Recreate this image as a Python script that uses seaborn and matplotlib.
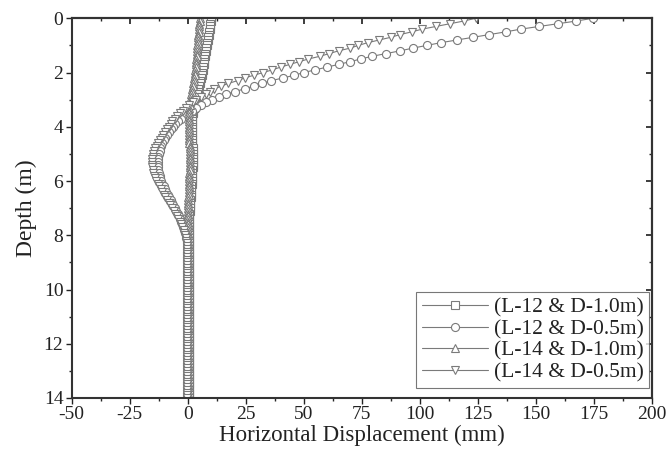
import numpy as np
import pandas as pd
import matplotlib
matplotlib.use("Agg")
import matplotlib.pyplot as plt
import seaborn as sns
from matplotlib.ticker import MultipleLocator

# depth sampling grid (m), 0.1 m step
depth = np.round(np.arange(0, 14.01, 0.1), 1)

# L-12 & D-1.0m (squares)
disp_l12_d10 = [
    10.2, 10.0, 9.8, 9.6, 9.4, 9.2, 9.0, 8.8, 8.6, 8.4,
    8.2, 8.0, 7.8, 7.6, 7.4, 7.2, 7.0, 6.8, 6.6, 6.4,
    6.2, 6.0, 5.8, 5.5, 5.2, 4.9, 4.6, 4.3, 4.0, 3.7,
    3.4, 3.1, 2.8, 2.6, 2.4, 2.2, 2.0, 1.9, 1.8, 1.8,
    1.8, 1.8, 1.8, 1.8, 1.9, 1.9, 2.0, 2.0, 2.1, 2.1,
    2.1, 2.1, 2.1, 2.1, 2.1, 2.1, 2.0, 2.0, 1.9, 1.9,
    1.8, 1.7, 1.6, 1.5, 1.4, 1.3, 1.2, 1.1, 1.0, 0.9,
    0.8, 0.8, 0.7, 0.7, 0.7, 0.7, 0.6, 0.6, 0.6, 0.6,
    0.6, 0.6, 0.6, 0.6, 0.6, 0.6, 0.6, 0.6, 0.6, 0.6,
    0.6, 0.6, 0.6, 0.6, 0.6, 0.6, 0.6, 0.6, 0.6, 0.6,
    0.6, 0.6, 0.6, 0.6, 0.6, 0.6, 0.6, 0.6, 0.6, 0.6,
    0.6, 0.6, 0.6, 0.6, 0.6, 0.6, 0.6, 0.6, 0.6, 0.6,
    0.6, 0.6, 0.6, 0.6, 0.6, 0.6, 0.6, 0.6, 0.6, 0.6,
    0.6, 0.6, 0.6, 0.6, 0.6, 0.6, 0.6, 0.6, 0.6, 0.6,
    0.6,
]

# L-12 & D-0.5m (circles)
disp_l12_d05 = [
    174.5, 167.5, 159.5, 151.5, 143.5, 137, 130, 123, 116, 109,
    103, 97, 91.5, 85.5, 79.5, 74.5, 70, 65, 60, 55,
    50, 46, 41, 36, 32, 28.5, 24.5, 20.5, 16.5, 13.5,
    10.5, 8, 5.7, 3.7, 1.8, 0, -1.5, -3, -4.3, -5.5,
    -6.5, -7.4, -8.2, -9, -9.7, -10.3, -10.9, -11.4, -11.8, -12.1,
    -12.4, -12.6, -12.8, -12.9, -12.9, -12.8, -12.6, -12.4, -12.1, -11.8,
    -11.4, -10.9, -10.4, -9.8, -9.2, -8.6, -8, -7.4, -6.8, -6.2,
    -5.6, -5, -4.4, -3.8, -3.3, -2.8, -2.3, -1.9, -1.5, -1.2,
    -0.9, -0.7, -0.5, -0.4, -0.3, -0.3, -0.2, -0.2, -0.2, -0.2,
    -0.2, -0.2, -0.2, -0.2, -0.2, -0.2, -0.2, -0.2, -0.2, -0.2,
    -0.2, -0.2, -0.2, -0.2, -0.2, -0.2, -0.2, -0.2, -0.2, -0.2,
    -0.2, -0.2, -0.2, -0.2, -0.2, -0.2, -0.2, -0.2, -0.2, -0.2,
    -0.2, -0.2, -0.2, -0.2, -0.2, -0.2, -0.2, -0.2, -0.2, -0.2,
    -0.2, -0.2, -0.2, -0.2, -0.2, -0.2, -0.2, -0.2, -0.2, -0.2,
    -0.2,
]

# L-14 & D-1.0m (up triangles)
disp_l14_d10 = [
    5.2, 5.1, 5.0, 4.9, 4.8, 4.7, 4.6, 4.5, 4.4, 4.3,
    4.2, 4.1, 4.0, 3.9, 3.8, 3.7, 3.6, 3.5, 3.4, 3.3,
    3.2, 3.0, 2.8, 2.6, 2.4, 2.2, 2.0, 1.8, 1.6, 1.4,
    1.2, 1.0, 0.8, 0.7, 0.6, 0.5, 0.5, 0.5, 0.5, 0.5,
    0.5, 0.5, 0.5, 0.6, 0.6, 0.7, 0.7, 0.8, 0.8, 0.8,
    0.8, 0.8, 0.8, 0.8, 0.8, 0.8, 0.8, 0.7, 0.7, 0.7,
    0.6, 0.6, 0.5, 0.5, 0.4, 0.4, 0.3, 0.3, 0.3, 0.2,
    0.2, 0.2, 0.2, 0.2, 0.2, 0.2, 0.2, 0.2, 0.2, 0.2,
    0.2, 0.2, 0.2, 0.2, 0.2, 0.2, 0.2, 0.2, 0.2, 0.2,
    0.2, 0.2, 0.2, 0.2, 0.2, 0.2, 0.2, 0.2, 0.2, 0.2,
    0.2, 0.2, 0.2, 0.2, 0.2, 0.2, 0.2, 0.2, 0.2, 0.2,
    0.2, 0.2, 0.2, 0.2, 0.2, 0.2, 0.2, 0.2, 0.2, 0.2,
    0.2, 0.2, 0.2, 0.2, 0.2, 0.2, 0.2, 0.2, 0.2, 0.2,
    0.2, 0.2, 0.2, 0.2, 0.2, 0.2, 0.2, 0.2, 0.2, 0.2,
    0.2,
]

# L-14 & D-0.5m (down triangles)
disp_l14_d05 = [
    124, 119, 113, 107, 101, 96.5, 91.5, 87.5, 82.5, 77.5,
    73.5, 70, 65, 61, 57, 52, 48, 44, 40, 36.5,
    32.5, 28.5, 24.5, 21.5, 17.5, 14.5, 11.5, 9.5, 7.7, 5.7,
    3.7, 2.1, 0.5, -0.9, -2.2, -3.4, -4.6, -5.6, -6.6, -7.4,
    -8.1, -8.9, -9.7, -10.5, -11.3, -12, -12.7, -13.3, -13.9, -14.4,
    -14.8, -15.1, -15.3, -15.4, -15.4, -15.3, -15.1, -14.8, -14.4, -14,
    -13.5, -12.9, -12.3, -11.7, -11, -10.3, -9.6, -8.9, -8.2, -7.5,
    -6.8, -6.1, -5.4, -4.7, -4.1, -3.5, -2.9, -2.3, -1.8, -1.4,
    -1.1, -0.8, -0.6, -0.5, -0.4, -0.4, -0.4, -0.4, -0.4, -0.4,
    -0.4, -0.4, -0.4, -0.4, -0.4, -0.4, -0.4, -0.4, -0.4, -0.4,
    -0.4, -0.4, -0.4, -0.4, -0.4, -0.4, -0.4, -0.4, -0.4, -0.4,
    -0.4, -0.4, -0.4, -0.4, -0.4, -0.4, -0.4, -0.4, -0.4, -0.4,
    -0.4, -0.4, -0.4, -0.4, -0.4, -0.4, -0.4, -0.4, -0.4, -0.4,
    -0.4, -0.4, -0.4, -0.4, -0.4, -0.4, -0.4, -0.4, -0.4, -0.4,
    -0.4,
]

series_names = ["(L-12 & D-1.0m)", "(L-12 & D-0.5m)", "(L-14 & D-1.0m)", "(L-14 & D-0.5m)"]
series_values = [disp_l12_d10, disp_l12_d05, disp_l14_d10, disp_l14_d05]
series_markers = ["s", "o", "^", "v"]

x_ticks = [-50, -25, 0, 25, 50, 75, 100, 125, 150, 175, 200]
y_ticks = [0, 2, 4, 6, 8, 10, 12, 14]

frames = []
for name, vals in zip(series_names, series_values):
    frames.append(pd.DataFrame({"disp": vals, "depth": depth, "series": name}))
df = pd.concat(frames, ignore_index=True)

sns.set_theme(style="ticks")
plt.rcParams["font.family"] = ["Liberation Serif", "DejaVu Serif"]
plt.rcParams["axes.unicode_minus"] = False

fig = plt.figure(figsize=(6.7, 4.55), dpi=100)
ax = fig.add_axes([0.107, 0.1253, 0.866, 0.8345])

gray = "#7a7a7a"
for name, mk in zip(series_names, series_markers):
    sub = df[df["series"] == name]
    sns.lineplot(data=sub, x="disp", y="depth", orient="y", sort=False,
                 ax=ax, color=gray, linewidth=0.8, marker=mk,
                 markersize=5.8, markerfacecolor="white",
                 markeredgecolor=gray, markeredgewidth=0.8, label=name)

ax.set_xlim(-50, 200)
ax.set_ylim(14, 0)
ax.set_xticks(x_ticks)
ax.set_yticks(y_ticks)
ax.xaxis.set_minor_locator(MultipleLocator(12.5))
ax.yaxis.set_minor_locator(MultipleLocator(1))
ax.tick_params(axis="both", which="major", direction="out", length=4, width=1,
               labelsize=14, colors="#222222", pad=2)
ax.tick_params(axis="both", which="minor", direction="out", length=2.5, width=1)

for s in ax.spines.values():
    s.set_linewidth(1.5)
    s.set_color("#333333")

secx = ax.secondary_xaxis("top")
secx.set_xticks(x_ticks)
secx.xaxis.set_minor_locator(MultipleLocator(12.5))
secx.tick_params(which="both", direction="in", labeltop=False)
secx.tick_params(which="major", length=4)
secx.tick_params(which="minor", length=2.5)
secx.spines["top"].set_linewidth(1.5)
secy = ax.secondary_yaxis("right")
secy.set_yticks(y_ticks)
secy.yaxis.set_minor_locator(MultipleLocator(1))
secy.tick_params(which="both", direction="in", labelright=False)
secy.tick_params(which="major", length=4)
secy.tick_params(which="minor", length=2.5)
secy.spines["right"].set_linewidth(1.5)

ax.set_xlabel("Horizontal Displacement (mm)", fontsize=16.5, color="#222222", labelpad=1)
ax.set_ylabel("Depth (m)", fontsize=17, color="#222222", labelpad=5)

leg = ax.legend(loc="lower right", bbox_to_anchor=(0.995, 0.026), fontsize=15.5,
                frameon=True, fancybox=False, edgecolor="#555555",
                handlelength=3.1, borderpad=0.25, labelspacing=0.08,
                handletextpad=0.25, borderaxespad=0.0)
leg.get_frame().set_linewidth(0.8)
for t in leg.get_texts():
    t.set_color("#222222")

fig.savefig("out.png", dpi=100)
